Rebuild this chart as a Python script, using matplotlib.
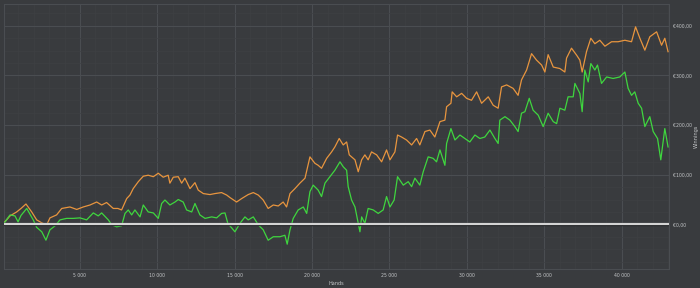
import matplotlib
matplotlib.use("Agg")
import matplotlib.pyplot as plt
from matplotlib.ticker import MultipleLocator, FuncFormatter
import matplotlib.patheffects as pe

# Orange series (all-in EV winnings)
ev_hands = [0, 480, 910, 1190, 1510, 1880, 2200, 2530, 2850, 3060,
            3490, 3820, 4350, 4790, 5210, 5650, 6080, 6400, 6720, 7150,
            7450, 7690, 8020, 8230, 8440, 8770, 9090, 9410, 9740, 10060,
            10380, 10700, 10810, 11030, 11350, 11570, 11780, 12110, 12430, 12640,
            12970, 13400, 13720, 14150, 14480, 14690, 15120, 15450, 15870, 16200,
            16520, 16840, 17160, 17490, 17810, 18130, 18350, 18570, 18890, 19210,
            19540, 19860, 20180, 20390, 20610, 20940, 21260, 21470, 21750, 22010,
            22230, 22400, 22550, 22770, 22980, 23200, 23410, 23620, 23840, 24170,
            24490, 24810, 25030, 25350, 25520, 25780, 26100, 26430, 26750, 26960,
            27290, 27610, 27930, 28260, 28580, 28690, 28970, 29050, 29340, 29660,
            29980, 30300, 30630, 30950, 31380, 31700, 32020, 32240, 32570, 32990,
            33310, 33530, 33860, 34180, 34500, 34830, 35040, 35250, 35580, 36010,
            36330, 36440, 36760, 37090, 37300, 37450, 37730, 38010, 38270, 38590,
            38920, 39350, 39770, 40210, 40640, 40900, 41180, 41500, 41820, 42260,
            42580, 42790, 43000]
ev_values = [0, 17, 25, 32, 41, 25, 9, 3, -1, 13,
             19, 32, 35, 30, 35, 39, 45, 39, 44, 32,
             32, 29, 52, 59, 72, 86, 97, 99, 96, 103,
             95, 99, 83, 95, 96, 83, 93, 72, 84, 69,
             62, 60, 62, 64, 59, 54, 45, 52, 60, 64,
             59, 49, 32, 39, 37, 45, 35, 62, 72, 83,
             93, 136, 123, 119, 113, 133, 146, 156, 173, 160,
             166, 140, 136, 130, 106, 130, 140, 130, 146, 140,
             126, 150, 130, 146, 180, 176, 170, 160, 173, 160,
             187, 190, 176, 207, 210, 237, 244, 267, 257, 264,
             254, 250, 267, 244, 257, 240, 234, 277, 281, 274,
             260, 291, 311, 344, 331, 321, 307, 342, 317, 314,
             307, 335, 355, 341, 331, 307, 348, 375, 364, 371,
             359, 368, 368, 371, 368, 398, 375, 351, 378, 388,
             361, 375, 348]

# Green series (actual winnings)
net_hands = [0, 160, 480, 800, 1000, 1190, 1560, 1980, 2200, 2530,
             2800, 3060, 3390, 3710, 4140, 4570, 5000, 5430, 5860, 6180,
             6400, 6830, 7050, 7370, 7690, 7910, 8120, 8340, 8550, 8880,
             9090, 9410, 9740, 10060, 10280, 10490, 10810, 11140, 11350, 11670,
             11890, 12220, 12430, 12750, 13080, 13510, 13830, 14150, 14370, 14580,
             14690, 15010, 15340, 15660, 15870, 16200, 16520, 16840, 17160, 17490,
             17920, 18240, 18390, 18570, 18780, 19100, 19430, 19650, 19860, 20070,
             20390, 20610, 20830, 21150, 21470, 21800, 22010, 22230, 22330, 22550,
             22770, 22980, 23090, 23200, 23410, 23620, 23950, 24270, 24590, 24810,
             25030, 25300, 25520, 25890, 26210, 26430, 26640, 26960, 27180, 27500,
             27820, 28040, 28260, 28580, 28690, 28970, 29230, 29550, 29870, 30190,
             30520, 30840, 31160, 31490, 31810, 32020, 32130, 32460, 32780, 33100,
             33310, 33530, 33750, 34030, 34280, 34610, 34930, 35250, 35580, 35800,
             36010, 36330, 36540, 36870, 36980, 37300, 37450, 37620, 37840, 38010,
             38270, 38440, 38700, 39030, 39450, 39880, 40210, 40420, 40640, 40850,
             41070, 41290, 41500, 41820, 42040, 42320, 42530, 42790, 43000]
net_values = [0, 5, 19, 17, 5, 18, 32, 9, -6, -15,
              -32, -11, -3, 9, 12, 12, 13, 9, 23, 17,
              23, 9, -1, -5, -3, 22, 29, 19, 29, 15,
              39, 25, 23, 12, 42, 49, 39, 45, 50, 45,
              29, 25, 42, 19, 12, 15, 13, 22, 23, -1,
              -3, -15, 2, 15, 9, 15, -1, -11, -32, -25,
              -25, -22, -40, -11, 12, 29, 35, 22, 66, 79,
              69, 56, 83, 96, 109, 126, 116, 109, 76, 49,
              35, 2, -15, 15, 2, 32, 29, 22, 29, 56,
              35, 49, 96, 79, 86, 76, 93, 79, 106, 136,
              133, 126, 150, 119, 163, 193, 170, 180, 173, 166,
              180, 173, 176, 190, 173, 163, 210, 217, 210, 197,
              187, 224, 227, 254, 230, 220, 197, 224, 207, 203,
              234, 230, 257, 257, 284, 264, 227, 311, 287, 324,
              311, 321, 284, 297, 294, 297, 307, 274, 260, 267,
              244, 234, 197, 217, 187, 173, 130, 193, 156]

BG = "#393b3e"
TXT = "#c4c6c8"

fig = plt.figure(figsize=(7.0, 2.88), dpi=100, facecolor=BG)
ax = fig.add_axes([0.0057, 0.066, 0.950, 0.920], facecolor=BG)

ax.plot(ev_hands, ev_values, color="#e8953e", lw=0.9, zorder=3)
ax.plot(net_hands, net_values, color="#3fd63f", lw=0.9, zorder=4)
ax.axhline(0, color="#d4d4d4", lw=1.6, zorder=5,
           path_effects=[pe.Stroke(linewidth=2.4, foreground="#1e1f21"), pe.Normal()])

ax.set_xlim(90, 43060)
ax.set_ylim(-90, 444)

ax.xaxis.set_major_locator(MultipleLocator(5000))
ax.xaxis.set_minor_locator(MultipleLocator(1000))
ax.yaxis.set_major_locator(MultipleLocator(100))
ax.yaxis.set_minor_locator(MultipleLocator(25))
ax.xaxis.set_major_formatter(FuncFormatter(lambda v, p: f"{int(v):,}".replace(",", " ")))
ax.yaxis.set_major_formatter(FuncFormatter(lambda v, p: f"€{v:.2f}".replace(".", ",")))

ax.grid(which="major", color="#4a4d51", lw=0.8)
ax.grid(which="minor", color="#3e4043", lw=0.5)
ax.set_axisbelow(True)

ax.yaxis.tick_right()
ax.yaxis.set_label_position("right")
ax.tick_params(which="both", length=0, colors=TXT, labelsize=3.3, pad=3)
for s in ax.spines.values():
    s.set_color("#4a4d51")
    s.set_linewidth(0.8)

ax.set_xlabel("Hands", color=TXT, fontsize=3.6, labelpad=2)
ax.set_ylabel("Winnings", color=TXT, fontsize=3.6)
ax.yaxis.set_label_coords(1.037, 0.5)

fig.savefig("out.png", dpi=100, facecolor=BG)
